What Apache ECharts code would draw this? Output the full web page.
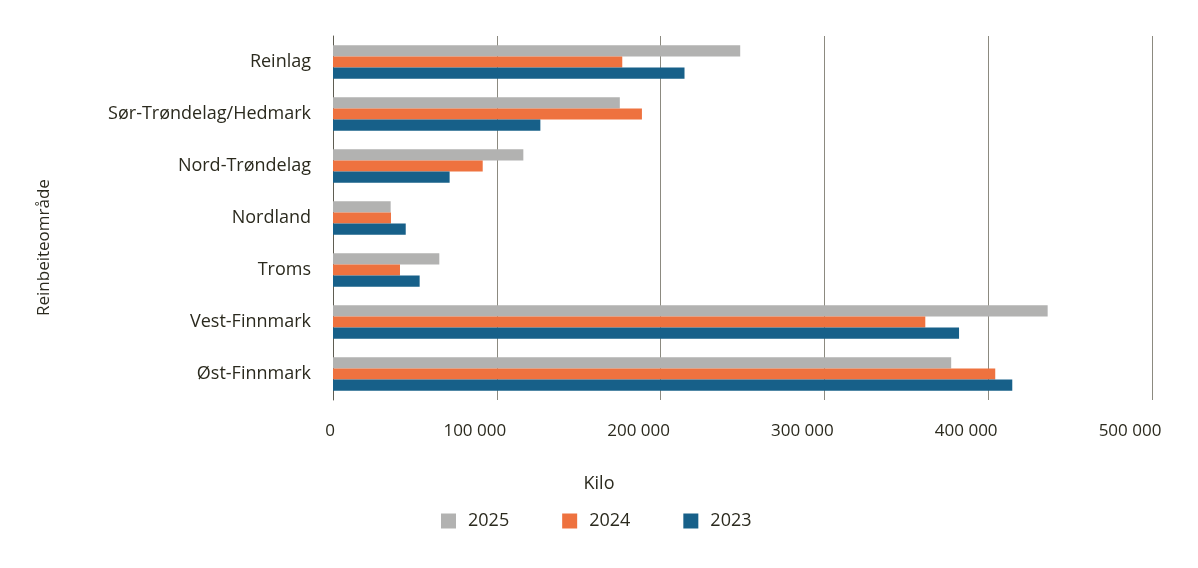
<!DOCTYPE html>
<html>
<head>
<meta charset="utf-8">
<script src="https://cdn.jsdelivr.net/npm/echarts@6/dist/echarts.min.js"></script>
<style>
    html, body { margin: 0; padding: 0; background: #fff; }
    #chart { width: 1198px; height: 568px; }
</style>
</head>
<body>
<div id="chart"></div>
<script>
// categories top to bottom, as in the picture
const categories = ['Reinlag', 'Sør-Trøndelag/Hedmark', 'Nord-Trøndelag', 'Nordland', 'Troms', 'Vest-Finnmark', 'Øst-Finnmark']
const years = ['2025', '2024', '2023']
const values2025 = [248600, 175100, 116200, 35200, 64900, 436300, 377400]
const values2024 = [176600, 188600, 91400, 35400, 40900, 361600, 404300]
const values2023 = [214600, 126600, 71200, 44400, 52900, 382200, 414700]
const colors = ['#b2b2b1', '#ee723f', '#176089']
const xName = 'Kilo'
const yName = 'Reinbeiteområde'

const textColor = '#2b2a1e'
const font = 'Open Sans'

const fmt = v => String(v).replace(/\B(?=(\d{3})+(?!\d))/g, ' ')

const chart = echarts.init(document.getElementById('chart'), null, { renderer: 'canvas' })

const seriesData = [values2025, values2024, values2023]

const options = {
    animation: false,
    color: colors,
    textStyle: { fontFamily: font, color: textColor },
    grid: {
        left: 333,
        right: 46,
        top: 36,
        bottom: 168,
        containLabel: false
    },
    graphic: [
        {
            type: 'text',
            left: 'center',
            top: 475,
            style: { text: xName, fontFamily: font, fontSize: 18, fill: textColor }
        },
        {
            type: 'text',
            x: 36,
            y: 316,
            rotation: Math.PI / 2,
            style: { text: yName, fontFamily: font, fontSize: 17, fill: textColor }
        }
    ],
    legend: {
        bottom: 33,
        left: 436,
        itemWidth: 15,
        itemHeight: 15,
        itemGap: 53,
        icon: 'rect',
        textStyle: { fontFamily: font, fontSize: 18, color: textColor, padding: [0, 0, 0, 7] },
        data: years
    },
    xAxis: {
        type: 'value',
        min: 0,
        max: 500000,
        interval: 100000,
        axisLine: { show: false },
        axisTick: { show: false },
        axisLabel: {
            margin: 23,
            fontFamily: font,
            fontSize: 17,
            color: textColor,
            formatter: v => v === 0 ? '{z|0}' : '{n|' + fmt(v) + '}',
            rich: {
                z: { fontFamily: font, fontSize: 17, color: textColor, padding: [0, 6, 0, 0] },
                n: { fontFamily: font, fontSize: 17, color: textColor, padding: [0, 44, 0, 0] }
            }
        },
        splitLine: { lineStyle: { color: '#8c8a80', width: 1 } }
    },
    yAxis: {
        type: 'category',
        inverse: true,
        data: categories,
        axisLine: { show: true, lineStyle: { color: '#5f5d52', width: 1 } },
        axisTick: { show: false },
        axisLabel: { margin: 22, fontFamily: font, fontSize: 18, color: textColor, padding: [4, 0, 0, 0] }
    },
    series: years.map((y, i) => ({
        name: y,
        type: 'bar',
        data: seriesData[i],
        barGap: '0%',
        barCategoryGap: '36%',
        itemStyle: { color: colors[i] }
    }))
}

chart.setOption(options)
</script>
</body>
</html>
